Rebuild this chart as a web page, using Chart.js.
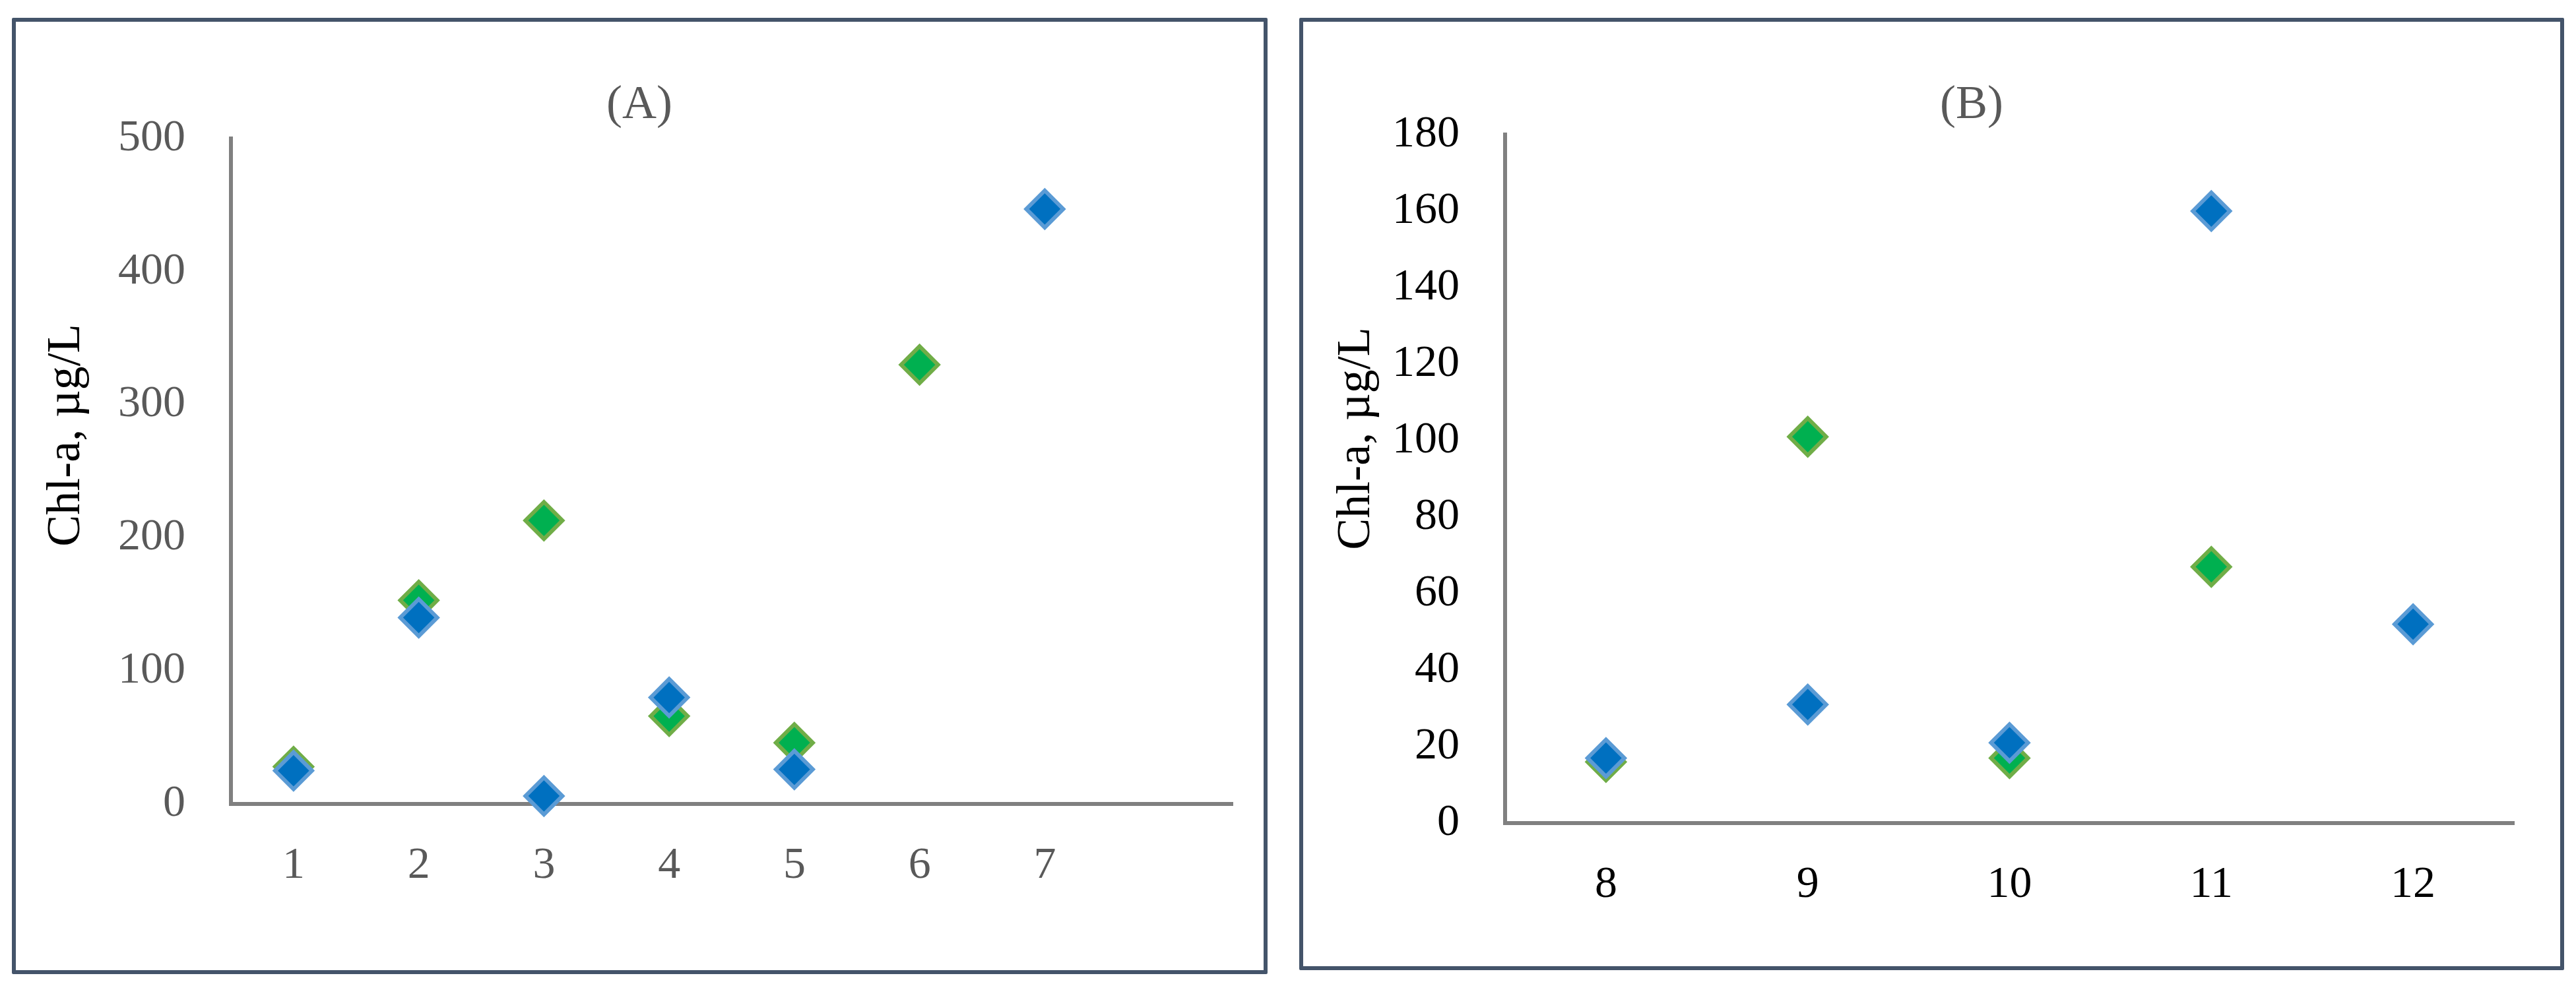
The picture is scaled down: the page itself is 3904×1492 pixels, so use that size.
<!DOCTYPE html>
<html>
<head>
<meta charset="utf-8">
<script src="https://cdn.jsdelivr.net/npm/chart.js@4/dist/chart.umd.min.js"></script>
<style>
  body { margin: 0; background: #fff; width: 3904px; height: 1492px; position: relative; overflow: hidden; }
  .panel { position: absolute; border: 6px solid #44546A; box-sizing: border-box; border-radius: 2px; }
  .panel canvas { position: absolute; left: 0; top: 0; }
</style>
</head>
<body>
<div class="panel" style="left:18px; top:27px; width:1903px; height:1450px;">
  <canvas id="chartA" width="1891" height="1438"></canvas>
</div>
<div class="panel" style="left:1969px; top:27px; width:1917px; height:1444px;">
  <canvas id="chartB" width="1905" height="1432"></canvas>
</div>
<script>
// panel (A): sites 1-7
var sitesA = [1, 2, 3, 4, 5, 6, 7];
var greenA = [28, 153, 213, 66, 46, 330, null];
var blueA  = [25, 140, 6, 80, 26, null, 447];
var yTicksA = [0, 100, 200, 300, 400, 500];

// panel (B): sites 8-12
var sitesB = [8, 9, 10, 11, 12];
var greenB = [16, 101, 17, 67, null];
var blueB  = [17, 31, 21, 160, 52];
var yTicksB = [0, 20, 40, 60, 80, 100, 120, 140, 160, 180];

var yTitle = 'Chl-a, µg/L';
var FONT = '"Liberation Serif", "Times New Roman", serif';

function points(xs, ys) {
  var out = [];
  for (var i = 0; i < xs.length; i++) {
    if (ys[i] !== null) out.push({x: xs[i], y: ys[i]});
  }
  return out;
}

// panel title and rotated y title, placed like the original
var panelText = {
  id: 'panelText',
  afterDraw: function(chart, args, o) {
    var ctx = chart.ctx;
    ctx.save();
    ctx.font = '72px ' + FONT;
    ctx.textAlign = 'center';
    ctx.textBaseline = 'alphabetic';
    ctx.fillStyle = '#595959';
    ctx.fillText(o.title, o.titleX, o.titleY);
    ctx.translate(o.sideX, o.sideY);
    ctx.rotate(-Math.PI / 2);
    ctx.fillStyle = '#000000';
    ctx.fillText(o.side, 0, 0);
    ctx.restore();
  }
};

function makeChart(id, sites, green, blue, yTicks, tickColor, box, txt) {
  var ymax = yTicks[yTicks.length - 1];
  return new Chart(document.getElementById(id), {
    type: 'scatter',
    data: {
      datasets: [{
        label: 'blue',
        data: points(sites, blue),
        pointStyle: 'rectRot',
        pointRadius: 28,
        pointBorderWidth: 6,
        backgroundColor: '#0070C0',
        borderColor: '#5B9BD5',
        clip: false
      }, {
        label: 'green',
        data: points(sites, green),
        pointStyle: 'rectRot',
        pointRadius: 28,
        pointBorderWidth: 6,
        backgroundColor: '#00B050',
        borderColor: '#70AD47',
        clip: false
      }]
    },
    options: {
      responsive: false,
      animation: false,
      events: [],
      layout: { padding: { left: 0, top: box.top, right: box.right, bottom: 0 } },
      plugins: {
        legend: { display: false },
        tooltip: { enabled: false },
        panelText: txt
      },
      scales: {
        x: {
          type: 'linear',
          min: sites[0] - 0.5,
          max: box.xmax,
          grid: { display: false, drawTicks: false },
          border: { display: true, color: '#808080', width: 6 },
          ticks: { color: tickColor, padding: 53, font: { family: FONT, size: 68 } },
          afterBuildTicks: function(s) { s.ticks = sites.map(function(v) { return {value: v}; }); },
          afterFit: function(s) { s.height = box.xh; }
        },
        y: {
          min: 0,
          max: ymax,
          grid: { display: false, drawTicks: false },
          border: { display: true, color: '#808080', width: 6 },
          ticks: { color: tickColor, padding: 69, font: { family: FONT, size: 68 } },
          afterBuildTicks: function(s) { s.ticks = yTicks.map(function(v) { return {value: v}; }); },
          afterFit: function(s) { s.width = box.yw; }
        }
      }
    },
    plugins: [panelText]
  });
}

makeChart('chartA', sitesA, greenA, blueA, yTicksA, '#595959',
  { top: 177, right: 47, xh: 252, yw: 326, xmax: 8.5 },
  { title: '(A)', titleX: 945, titleY: 146, side: yTitle, sideX: 96, sideY: 627 });

makeChart('chartB', sitesB, greenB, blueB, yTicksB, '#000000',
  { top: 171, right: 70, xh: 217, yw: 306, xmax: 12.5 },
  { title: '(B)', titleX: 1013, titleY: 146, side: yTitle, sideX: 100, sideY: 632 });
</script>
</body>
</html>
